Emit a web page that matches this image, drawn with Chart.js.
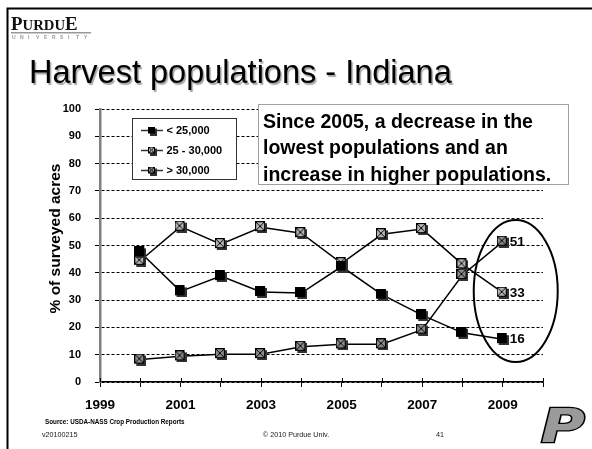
<!DOCTYPE html>
<html>
<head>
<meta charset="utf-8">
<script src="https://cdn.jsdelivr.net/npm/chart.js@4.4.1/dist/chart.umd.min.js"></script>
<style>
  html, body { margin: 0; padding: 0; background: #fff; }
  #c { display: block; }
</style>
</head>
<body>
<canvas id="c" width="592" height="449" style="width:592px;height:449px"></canvas>
<script>
// ---- data ----
const years = [2000, 2001, 2002, 2003, 2004, 2005, 2006, 2007, 2008, 2009];
const under25 = [47.5, 33.2, 38.8, 33.0, 32.6, 42.3, 32.0, 24.5, 18.0, 15.7];
const mid25to30 = [44.4, 56.9, 50.5, 56.7, 54.5, 43.5, 54.1, 56.0, 43.1, 32.7];
const over30 = [8.2, 9.4, 10.2, 10.2, 12.9, 13.8, 13.8, 19.2, 39.2, 51.4];
const seriesNames = ['< 25,000', '25 - 30,000', '> 30,000'];
const xLabelYears = [1999, 2001, 2003, 2005, 2007, 2009];
const yTicks = [0, 10, 20, 30, 40, 50, 60, 70, 80, 90, 100];
const titleText = 'Harvest populations - Indiana';
const yTitle = '% of surveyed acres';
const noteLines = ['Since 2005, a decrease in the', 'lowest populations and an', 'increase in higher populations.'];

const FONT = '"Liberation Sans", Arial, sans-serif';

function markerImg(fill, cross, s) {
  const c = document.createElement('canvas');
  c.width = s + 2; c.height = s + 2;
  const g = c.getContext('2d');
  g.fillStyle = '#333';
  g.fillRect(2, 2, s, s);
  g.fillStyle = fill;
  g.fillRect(0, 0, s, s);
  g.strokeStyle = '#000';
  g.lineWidth = 1;
  g.strokeRect(0.5, 0.5, s - 1, s - 1);
  if (cross) {
    g.beginPath();
    g.moveTo(1, 1); g.lineTo(s - 1, s - 1);
    g.moveTo(s - 1, 1); g.lineTo(1, s - 1);
    g.stroke();
  }
  return c;
}
const fills = ['#000000', '#b4b4b4', '#8c8c8c'];
const crosses = [false, true, true];
const bigMarkers = fills.map((f, i) => markerImg(f, crosses[i], 10));
const smallMarkers = fills.map((f, i) => markerImg(f, crosses[i], 7));

const seriesValues = [under25, mid25to30, over30];
const datasets = seriesValues.map((vals, i) => ({
  label: seriesNames[i],
  data: years.map((y, k) => ({ x: y, y: vals[k] })),
  borderColor: '#000',
  borderWidth: 1.5,
  pointStyle: bigMarkers[i],
  pointRadius: 5,
  tension: 0,
  fill: false
}));

const decor = {
  id: 'decor',
  beforeDraw(chart) {
    const ctx = chart.ctx;
    ctx.save();
    ctx.fillStyle = '#fff';
    ctx.fillRect(0, 0, chart.width, chart.height);
    // frame
    ctx.strokeStyle = '#000';
    ctx.lineWidth = 2;
    ctx.beginPath();
    ctx.moveTo(7.5, 449); ctx.lineTo(7.5, 8.5); ctx.lineTo(592, 8.5);
    ctx.stroke();
    // Purdue wordmark
    ctx.fillStyle = '#111';
    ctx.textBaseline = 'alphabetic';
    ctx.save();
    ctx.translate(11, 30);
    ctx.scale(1.05, 1);
    ctx.font = 'bold 18px "Liberation Serif", serif';
    ctx.fillText('P', 0, 0);
    let w = ctx.measureText('P').width;
    ctx.font = 'bold 14px "Liberation Serif", serif';
    ctx.fillText('URDU', w, 0);
    w += ctx.measureText('URDU').width;
    ctx.font = 'bold 18px "Liberation Serif", serif';
    ctx.fillText('E', w, 0);
    ctx.restore();
    ctx.fillStyle = '#999';
    ctx.fillRect(11, 32, 80, 1.5);
    ctx.font = 'bold 5px ' + FONT;
    const uni = 'UNIVERSITY';
    for (let i = 0; i < uni.length; i++) ctx.fillText(uni[i], 12 + i * 8, 39);
    // title
    ctx.save();
    ctx.shadowColor = 'rgba(0,0,0,0.35)';
    ctx.shadowOffsetX = 1.5; ctx.shadowOffsetY = 1.5; ctx.shadowBlur = 1;
    ctx.fillStyle = '#000';
    ctx.font = '32.5px ' + FONT;
    ctx.fillText(titleText, 29, 83);
    ctx.restore();
    // footer
    ctx.fillStyle = '#000';
    ctx.font = 'bold 6.3px ' + FONT;
    ctx.fillText('Source: USDA-NASS Crop Production Reports', 45, 424);
    ctx.fillStyle = '#222';
    ctx.font = '7.2px ' + FONT;
    ctx.fillText('v20100215', 42, 436.5);
    ctx.textAlign = 'center';
    ctx.fillText('\u00A9 2010 Purdue Univ.', 296, 436.5);
    ctx.fillText('41', 440, 436.5);
    // Purdue P logo
    ctx.save();
    ctx.translate(541, 442);
    ctx.scale(1.3, 1);
    ctx.textAlign = 'left';
    ctx.font = 'italic bold 46px "DejaVu Sans", sans-serif';
    ctx.lineWidth = 2.5;
    ctx.strokeStyle = '#000';
    ctx.strokeText('P', 0, 0);
    ctx.fillStyle = '#9a9a9a';
    ctx.fillText('P', 0, 0);
    ctx.restore();
    // y axis title
    ctx.save();
    ctx.translate(56, 238.5);
    ctx.rotate(-Math.PI / 2);
    ctx.textAlign = 'center';
    ctx.textBaseline = 'middle';
    ctx.fillStyle = '#000';
    ctx.font = 'bold 15.5px ' + FONT;
    ctx.fillText(yTitle, 0, 0);
    ctx.restore();
    ctx.restore();
  },
  afterDraw(chart) {
    const ctx = chart.ctx;
    const xs = chart.scales.x, ys = chart.scales.y;
    ctx.save();
    // small upward ticks on x axis
    ctx.strokeStyle = '#000';
    ctx.lineWidth = 1;
    for (let yr = 1999; yr <= 2010; yr++) {
      const px = Math.round(xs.getPixelForValue(yr)) + 0.5;
      ctx.beginPath();
      ctx.moveTo(px, ys.bottom); ctx.lineTo(px, ys.bottom - 4);
      ctx.stroke();
    }
    // end labels
    const last = years.length - 1;
    ctx.fillStyle = '#000';
    ctx.font = 'bold 13.5px ' + FONT;
    ctx.textBaseline = 'middle';
    ctx.textAlign = 'left';
    seriesValues.forEach(vals => {
      const v = vals[last];
      ctx.fillText(String(Math.round(v)), xs.getPixelForValue(years[last]) + 7, ys.getPixelForValue(v) + 0.5);
    });
    // ellipse
    ctx.beginPath();
    ctx.lineWidth = 2;
    ctx.ellipse(xs.getPixelForValue(years[last]) + 13, ys.getPixelForValue(33.3), 42, 71, 0, 0, Math.PI * 2);
    ctx.stroke();
    // legend box
    ctx.fillStyle = '#fff';
    ctx.fillRect(132, 118, 105, 62);
    ctx.strokeStyle = '#333';
    ctx.lineWidth = 1;
    ctx.strokeRect(132.5, 118.5, 104, 61);
    ctx.font = 'bold 11px ' + FONT;
    ctx.fillStyle = '#000';
    ctx.textBaseline = 'middle';
    chart.data.datasets.forEach((ds, i) => {
      const cy = 130.5 + i * 20;
      ctx.beginPath();
      ctx.lineWidth = 1.5;
      ctx.moveTo(141, cy); ctx.lineTo(163, cy);
      ctx.stroke();
      const m = smallMarkers[i];
      ctx.drawImage(m, 152 - m.width / 2 + 0.5, cy - m.height / 2 + 0.5);
      ctx.fillText(ds.label, 166.5, cy + 0.5);
    });
    // note box
    ctx.fillStyle = '#fff';
    ctx.fillRect(258, 104, 311, 81);
    ctx.strokeStyle = '#a0a0a0';
    ctx.lineWidth = 1;
    ctx.strokeRect(258.5, 104.5, 310, 80);
    ctx.fillStyle = '#000';
    ctx.font = 'bold 19.5px ' + FONT;
    noteLines.forEach((t, i) => ctx.fillText(t, 263, 122.5 + i * 26.5));
    ctx.restore();
  }
};

new Chart(document.getElementById('c'), {
  type: 'line',
  data: { datasets },
  options: {
    responsive: false,
    animation: false,
    devicePixelRatio: 1,
    layout: { padding: { left: 47, right: 49, top: 109, bottom: 30 } },
    plugins: { legend: { display: false }, tooltip: { enabled: false } },
    scales: {
      x: {
        type: 'linear',
        min: 1999, max: 2010,
        afterFit(s) { s.height = 37; },
        afterBuildTicks(s) { s.ticks = []; for (let y = 1999; y <= 2010; y++) s.ticks.push({ value: y }); },
        grid: { drawOnChartArea: false, drawTicks: true, tickLength: 5, color: '#000', lineWidth: 1 },
        border: { display: true, color: '#000', width: 1.5 },
        ticks: {
          autoSkip: false, maxRotation: 0, padding: 10,
          color: '#000',
          font: { family: FONT, size: 13.5, weight: 'bold' },
          callback: v => xLabelYears.includes(v) ? String(v) : ''
        }
      },
      y: {
        min: 0, max: 100,
        afterFit(s) { s.width = 53; },
        afterBuildTicks(s) { s.ticks = yTicks.map(v => ({ value: v })); },
        grid: { color: '#000', lineWidth: 1, tickLength: 5, drawTicks: true },
        border: { display: true, color: '#808080', width: 2.5, dash: [3, 2] },
        ticks: {
          padding: 14, color: '#000',
          font: { family: FONT, size: 11, weight: 'bold' }
        }
      }
    }
  },
  plugins: [decor]
});
</script>
</body>
</html>
